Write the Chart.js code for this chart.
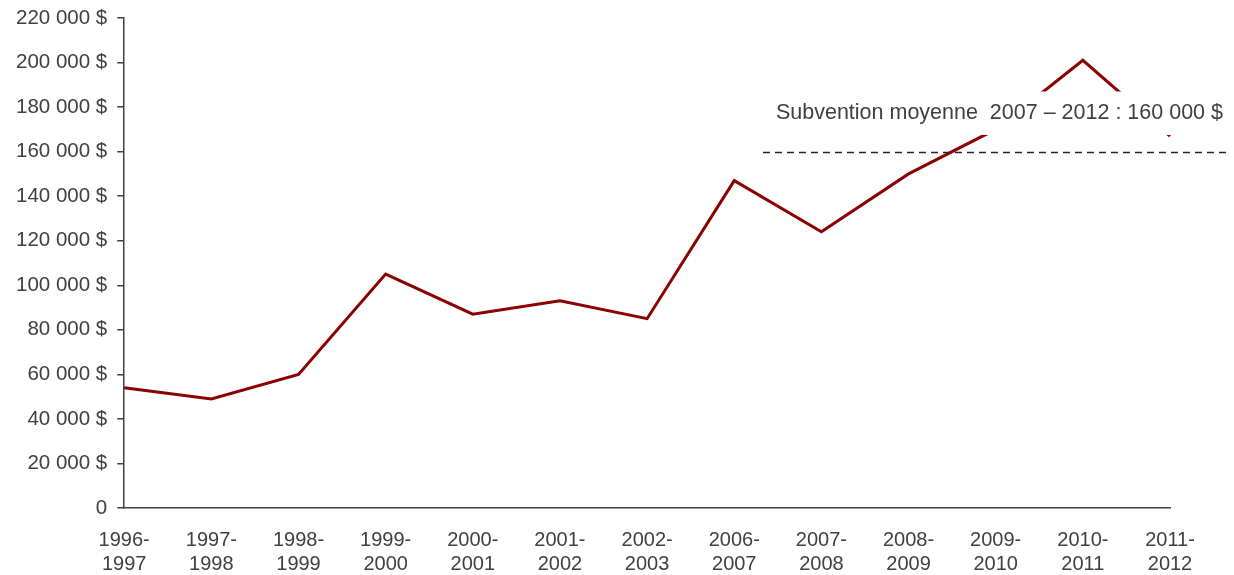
<!DOCTYPE html>
<html>
<head>
<meta charset="utf-8">
<script src="https://cdn.jsdelivr.net/npm/chart.js@4/dist/chart.umd.min.js"></script>
<style>
  html, body { margin: 0; padding: 0; background: #fff; }
  #wrap { width: 1234px; height: 575px; }
</style>
</head>
<body>
<div id="wrap"><canvas id="grantChart"></canvas></div>
<script>
// Subvention par année
const years = [
    ['1996-', '1997'], ['1997-', '1998'], ['1998-', '1999'], ['1999-', '2000'],
    ['2000-', '2001'], ['2001-', '2002'], ['2002-', '2003'], ['2006-', '2007'],
    ['2007-', '2008'], ['2008-', '2009'], ['2009-', '2010'], ['2010-', '2011'],
    ['2011-', '2012']
];
const grants = [54000, 49000, 60000, 105000, 87000, 93000, 85000, 147000, 124000, 150000, 170000, 201000, 167000];
const averageGrant = 160000;
const averageLabel = 'Subvention moyenne  2007 \u2013 2012 : 160 000 $';

const textColor = '#404040';
const fontFamily = '"Liberation Sans", Arial, sans-serif';

function formatDollars(v) {
    if (v === 0) return '0';
    return String(v).replace(/\B(?=(\d{3})+(?!\d))/g, ' ') + ' $';
}

// Dashed average line + label box
const averagePlugin = {
    id: 'averageLine',
    afterDatasetsDraw(chart) {
        const ctx = chart.ctx;
        const x = chart.scales.x;
        const y = chart.scales.y;
        const yAvg = Math.round(y.getPixelForValue(averageGrant)) + 0.5;
        const xStart = x.getPixelForValue(7.33);

        ctx.save();
        ctx.strokeStyle = '#262626';
        ctx.lineWidth = 1.5;
        ctx.setLineDash([7, 5]);
        ctx.beginPath();
        ctx.moveTo(xStart, yAvg);
        ctx.lineTo(chart.width - 6, yAvg);
        ctx.stroke();
        ctx.setLineDash([]);

        // white box behind the text
        const boxTop = y.getPixelForValue(averageGrant + 27000);
        const boxBottom = y.getPixelForValue(averageGrant + 7500);
        ctx.fillStyle = '#ffffff';
        ctx.fillRect(xStart + 5, boxTop, chart.width - xStart - 5, boxBottom - boxTop);

        ctx.fillStyle = textColor;
        ctx.font = '21.5px ' + fontFamily;
        ctx.textAlign = 'right';
        ctx.textBaseline = 'middle';
        ctx.fillText(averageLabel, chart.width - 11, (boxTop + boxBottom) / 2);
        ctx.restore();
    }
};

function initGrantChart() {
    const ctx = document.getElementById('grantChart').getContext('2d');

    new Chart(ctx, {
        type: 'line',
        data: {
            labels: years,
            datasets: [{
                data: grants,
                borderColor: '#8B0000',
                borderWidth: 3,
                pointRadius: 0,
                tension: 0,
                fill: false
            }]
        },
        options: {
            responsive: true,
            maintainAspectRatio: false,
            animation: false,
            layout: {
                padding: { top: 18, right: 64, bottom: -21, left: 6 }
            },
            plugins: {
                legend: { display: false },
                tooltip: { enabled: false }
            },
            scales: {
                x: {
                    offset: false,
                    grid: { display: false, drawTicks: false },
                    border: { display: true, color: '#404040', width: 1.5 },
                    ticks: {
                        color: textColor,
                        font: { family: fontFamily, size: 20, lineHeight: 1.2 },
                        padding: 20,
                        maxRotation: 0,
                        autoSkip: false
                    }
                },
                y: {
                    min: 0,
                    max: 220000,
                    grid: {
                        drawOnChartArea: false,
                        drawTicks: true,
                        tickLength: 7,
                        color: '#404040',
                        lineWidth: 1.5
                    },
                    border: { display: true, color: '#404040', width: 1.5 },
                    ticks: {
                        stepSize: 20000,
                        color: textColor,
                        font: { family: fontFamily, size: 20.5, lineHeight: 0.6 },
                        padding: 10,
                        callback: v => formatDollars(v)
                    }
                }
            }
        },
        plugins: [averagePlugin]
    });
}

document.addEventListener('DOMContentLoaded', () => {
    initGrantChart();
});
</script>
</body>
</html>
